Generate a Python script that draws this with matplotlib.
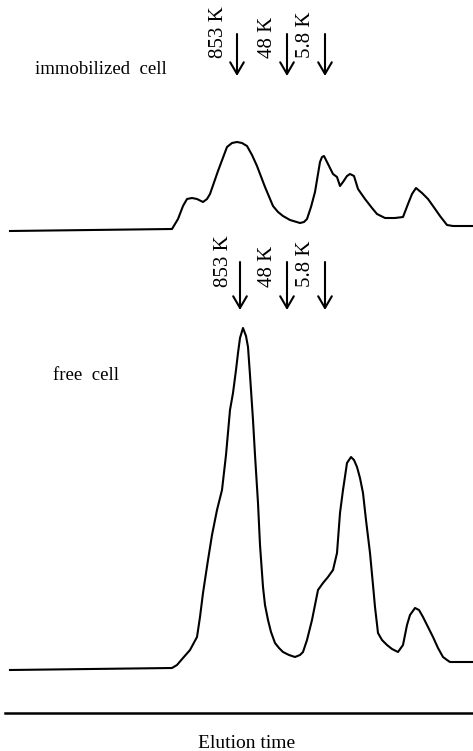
import numpy as np
import matplotlib
matplotlib.use('Agg')
import matplotlib.pyplot as plt

# elution profiles (arbitrary time units / detector response)
t_immob = [10, 172, 178, 183, 187, 192, 197, 203, 207, 210, 218, 227, 232, 237, 242, 247,
           252, 257, 265, 273, 278, 283, 290, 300, 304, 307, 311, 315, 318, 320, 322, 324,
           328, 333, 337, 340, 343, 347, 350, 354, 358, 365, 372, 377, 385, 395, 403, 408,
           412, 416, 422, 428, 433, 440, 447, 453, 473]
sig_immob = [0, 2, 12, 25, 32, 33, 32, 29, 32, 37, 60, 84, 88, 89, 88, 85,
             76, 65, 44, 25, 19, 15, 11, 8, 9, 12, 24, 39, 57, 69, 74, 75,
             67, 57, 54, 45, 49, 55, 57, 55, 42, 32, 23, 17, 13, 13, 14, 27,
             37, 43, 38, 32, 25, 15, 6, 5, 5]

t_free = [10, 172, 177, 183, 190, 197, 200, 203, 208, 212, 217, 222, 226, 230, 233, 236,
          238, 240, 243, 246, 248, 250, 253, 255, 258, 260, 263, 265, 268, 271, 275, 279,
          283, 289, 295, 300, 303, 307, 312, 315, 318, 323, 328, 333, 337, 340, 343, 347,
          351, 354, 357, 360, 363, 366, 370, 373, 375, 378, 382, 387, 392, 398, 403, 405,
          407, 410, 415, 419, 423, 428, 433, 438, 443, 447, 450, 473]
sig_free = [0, 2, 5, 12, 20, 33, 53, 77, 110, 135, 160, 180, 215, 260, 277, 300,
            317, 332, 342, 334, 323, 295, 250, 215, 167, 125, 83, 65, 50, 38, 27, 22,
            18, 15, 13, 15, 18, 30, 50, 65, 80, 87, 93, 100, 117, 157, 180, 207,
            213, 210, 203, 192, 177, 150, 117, 85, 63, 37, 30, 25, 21, 18, 25, 35,
            45, 55, 62, 60, 53, 43, 33, 22, 13, 10, 8, 8]

# molecular weight markers
mw_labels = ['853 K', '48 K', '5.8 K']
mw_immob = [237, 287, 325]
mw_free = [240, 287, 325]
lab_immob = [218, 267, 305]
lab_free = [223, 267, 305]

plt.rcParams['font.family'] = ['Liberation Serif', 'DejaVu Serif']

fig = plt.figure(figsize=(4.73, 7.51), dpi=100)
ax = fig.add_axes([0, 0, 1, 1])
ax.set_xlim(0, 473)
ax.set_ylim(0, 751)
ax.axis('off')

base_immob = 520
base_free = 81

ax.plot(t_immob, np.array(sig_immob) + base_immob, color='black', lw=1.5)
ax.plot(t_free, np.array(sig_free) + base_free, color='black', lw=1.5)

# time axis
ax.plot([5, 473], [38, 38], color='black', lw=1.8)
ax.text(247, 8, 'Elution time', ha='center', va='center', fontsize=14)

ax.text(35, 681, 'immobilized  cell', ha='left', va='center', fontsize=13.5)
ax.text(53, 376, 'free  cell', ha='left', va='center', fontsize=13.5)

arrow = dict(arrowstyle='->,head_length=0.6,head_width=0.35', lw=1.5, color='black',
             mutation_scale=14, shrinkA=0, shrinkB=0)
for lab, xa, xl in zip(mw_labels, mw_immob, lab_immob):
    ax.annotate('', xy=(xa, 675), xytext=(xa, 717), arrowprops=arrow)
    ax.text(xl, 693, lab, rotation=90, ha='center', va='bottom', fontsize=15)
for lab, xa, xl in zip(mw_labels, mw_free, lab_free):
    ax.annotate('', xy=(xa, 441), xytext=(xa, 489), arrowprops=arrow)
    ax.text(xl, 464, lab, rotation=90, ha='center', va='bottom', fontsize=15)

fig.savefig('out.png', dpi=100)
